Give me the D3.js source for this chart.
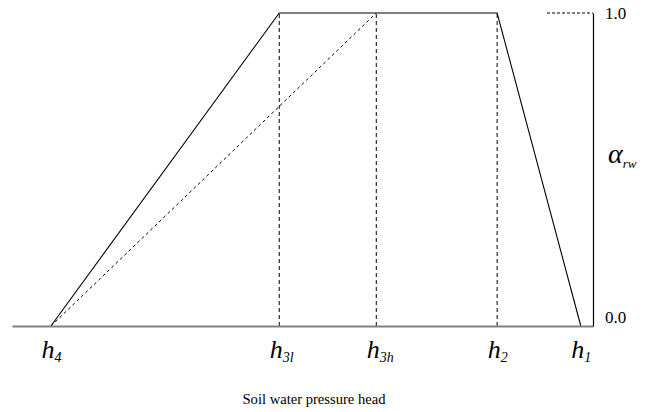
<!DOCTYPE html>
<html>
<head>
<meta charset="utf-8">
<script src="https://cdn.jsdelivr.net/npm/d3@7"></script>
<style>
  body { margin: 0; background: #fff; }
  svg { display: block; }
  svg text { font-family: "Times New Roman", "Liberation Serif", Tinos, "DejaVu Serif", serif; }
</style>
</head>
<body>
<div id="chart"></div>
<script>
// pressure head positions (relative units)
var hNames = ["4", "3l", "3h", "2", "1"];
var hValues = [6.7, 46.0, 62.7, 83.5, 97.9];

// reduction factor alpha_rw
var solidH = [6.7, 46.0, 83.5, 97.9];
var solidA = [0, 1, 1, 0];
var dashedH = [6.7, 62.7];
var dashedA = [0, 1];
var dropH = [46.0, 62.7, 83.5];
var yTicks = [0, 1];

var width = 651, height = 412;
var serif = '"Times New Roman", "Liberation Serif", serif';

var x = d3.scaleLinear().domain([0, 100]).range([12, 593]);
var y = d3.scaleLinear().domain([0, 1]).range([326, 13]);

var svg = d3.select("#chart").append("svg")
    .attr("width", width)
    .attr("height", height);

var line = d3.line()
    .x(function(d) { return x(d[0]); })
    .y(function(d) { return y(d[1]); });

// vertical dashed drops
svg.selectAll(".drop")
    .data(dropH)
  .enter().append("line")
    .attr("class", "drop")
    .attr("x1", function(d) { return x(d); })
    .attr("x2", function(d) { return x(d); })
    .attr("y1", y(0))
    .attr("y2", y(1))
    .style("stroke", "#000")
    .style("stroke-width", 1)
    .style("stroke-dasharray", "4,3");

// dashed top reference near the right axis
svg.append("line")
    .attr("x1", 547)
    .attr("x2", x(100))
    .attr("y1", y(1))
    .attr("y2", y(1))
    .style("stroke", "#000")
    .style("stroke-dasharray", "3,2");

svg.append("path")
    .datum(d3.zip(dashedH, dashedA))
    .attr("d", line)
    .style("fill", "none")
    .style("stroke", "#000")
    .style("stroke-dasharray", "3,3");

svg.append("path")
    .datum(d3.zip(solidH, solidA))
    .attr("d", line)
    .style("fill", "none")
    .style("stroke", "#000")
    .style("stroke-width", 1.1);

// bottom axis
var xAxis = svg.append("g")
    .attr("transform", "translate(0," + y(0) + ")")
    .call(d3.axisBottom(x).tickValues(hValues).tickSize(0).tickSizeOuter(0).tickFormat(""));

xAxis.select(".domain").style("stroke", "#808080").style("stroke-width", 2);

xAxis.selectAll(".tick text").remove();
xAxis.selectAll(".tick").append("text")
    .attr("x", -10)
    .attr("y", 32)
    .attr("text-anchor", "start")
    .style("fill", "#000")
    .style("font-family", serif)
    .style("font-style", "italic")
    .each(function(d, i) {
      var t = d3.select(this);
      t.append("tspan").style("font-size", "26px").text("h");
      t.append("tspan").style("font-size", "14px").attr("dy", 4).text(hNames[i]);
    });

// right axis
var yAxis = svg.append("g")
    .attr("transform", "translate(" + x(100) + ",0)")
    .call(d3.axisRight(y).tickValues(yTicks).tickSize(0).tickSizeOuter(0).tickPadding(12).tickFormat(d3.format(".1f")));

yAxis.select(".domain").style("stroke", "#000").style("stroke-width", 1.2);
yAxis.selectAll(".tick text")
    .style("font-family", serif)
    .style("font-size", "17px")
    .style("fill", "#000");
yAxis.selectAll(".tick").filter(function(d) { return d === 0; }).select("text").attr("dy", "-0.2em");

var alpha = svg.append("text")
    .attr("x", 608)
    .attr("y", 163)
    .style("font-family", serif)
    .style("font-style", "italic");
alpha.append("tspan").style("font-size", "28px").text("α");
alpha.append("tspan").style("font-size", "13px").attr("dy", 5).text("rw");

svg.append("text")
    .attr("x", 314)
    .attr("y", 404)
    .attr("text-anchor", "middle")
    .style("font-family", serif)
    .style("font-size", "14.6px")
    .text("Soil water pressure head");
</script>
</body>
</html>
